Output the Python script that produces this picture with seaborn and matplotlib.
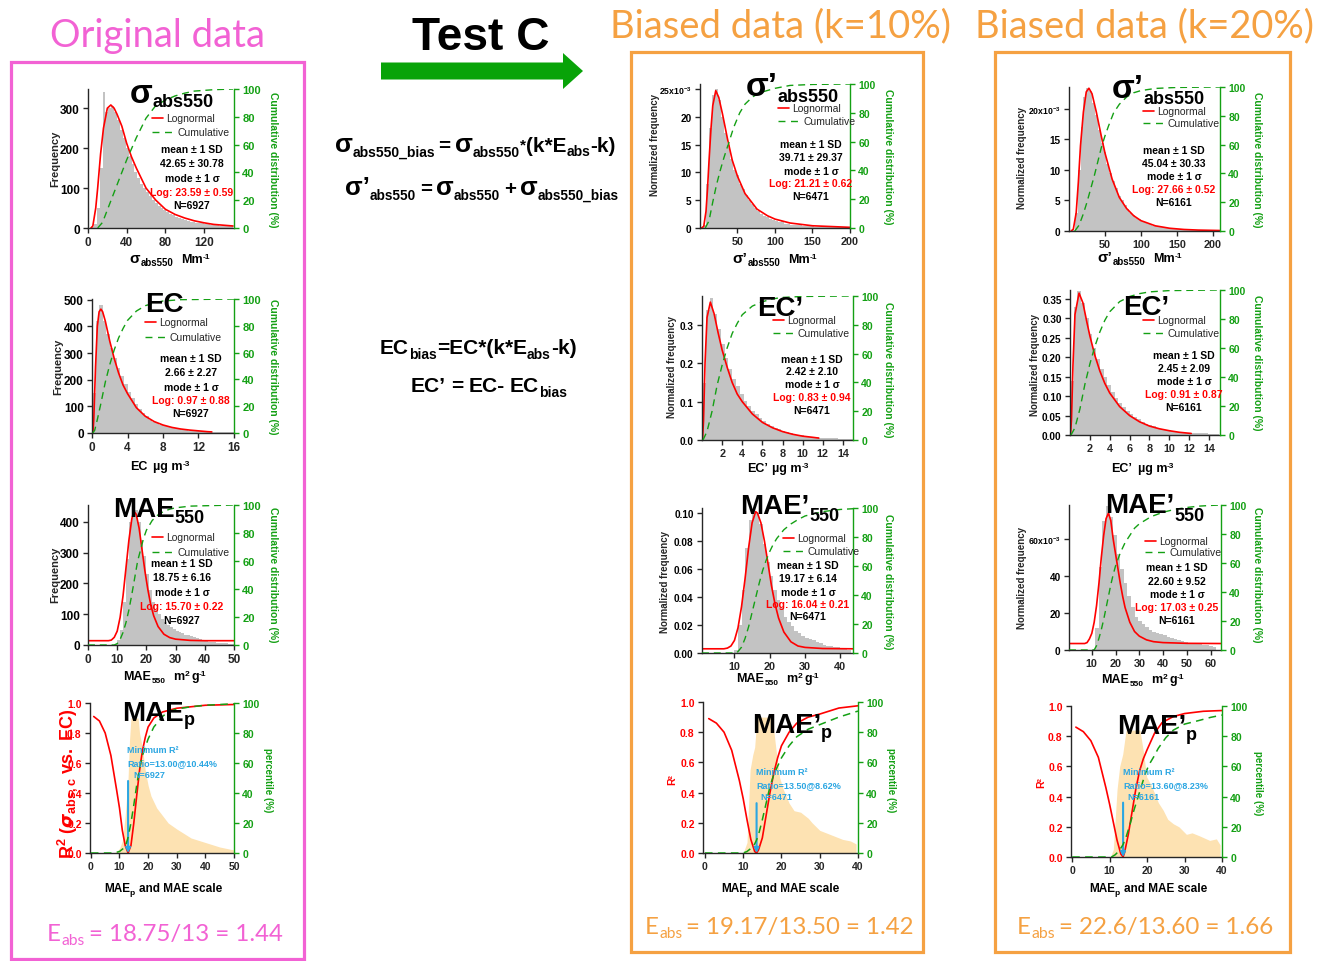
import numpy as np
import pandas as pd
import matplotlib
matplotlib.use("Agg")
import matplotlib.pyplot as plt
import seaborn as sns
from matplotlib.patches import Rectangle, FancyArrow

sns.set_style("ticks")
plt.rcParams['font.family'] = ['Liberation Sans', 'DejaVu Sans']
plt.rcParams['mathtext.fontset'] = 'custom'
plt.rcParams['mathtext.rm'] = 'Liberation Sans'
plt.rcParams['mathtext.bf'] = 'Liberation Sans:bold'
plt.rcParams['mathtext.it'] = 'Liberation Sans:italic'
plt.rcParams['mathtext.sf'] = 'Liberation Sans'
plt.rcParams['axes.unicode_minus'] = False

# ------------------------------------------------------------------ data
# --- Original data: sigma_abs550 (bin width 3, 0..150)
H11 = [0, 2, 10, 50, 150, 340, 290, 300, 305, 290, 270, 245, 225, 200, 180, 160, 140, 125, 110, 100,
       90, 80, 70, 62, 55, 50, 45, 40, 36, 32, 28, 25, 22, 20, 18, 16, 15, 13, 12, 14,
       10, 9, 8, 7, 7, 6, 5, 5, 4, 4]
R11x = [3, 5, 8, 10, 13, 16, 20, 23.6, 27, 30, 35, 40, 45, 50, 60, 70, 80, 90, 100, 110, 120, 130, 140, 150]
R11y = [0, 5, 50, 100, 185, 250, 300, 308, 300, 285, 255, 212, 178, 150, 100, 70, 47, 34, 25, 18, 13, 9, 7, 5]
G11x = [10, 15, 20, 30, 40, 50, 60, 70, 80, 90, 100, 110, 130, 150]
G11y = [0, 4, 13, 31, 49, 65, 79, 88, 92, 95, 97, 98.5, 99.5, 100]

# --- Original data: EC (bin width 0.4, 0..16)
H12 = [150, 420, 480, 420, 370, 320, 280, 245, 215, 185, 155, 130, 108, 90, 75, 62, 50, 42, 36, 31,
       27, 23, 20, 17, 15, 13, 11, 9, 8, 7, 6, 5, 5, 4, 4, 3, 3, 2, 2, 2]
R12x = [0.1, 0.2, 0.4, 0.6, 0.8, 1.0, 1.2, 1.5, 2, 2.5, 3, 3.5, 4, 5, 6, 7, 8, 9, 10, 11, 12, 13, 13.5]
R12y = [0, 50, 250, 400, 455, 465, 455, 420, 345, 280, 225, 180, 148, 95, 63, 43, 30, 21, 15, 11, 8, 5, 4]
G12x = [0.1, 0.3, 0.6, 1, 1.5, 2, 2.5, 3, 3.5, 4, 5, 6, 7, 8, 10, 16]
G12y = [0, 2, 10, 22, 38, 51, 62, 71, 78, 84, 91, 95, 97, 98.5, 99.5, 100]

# --- Original data: MAE550 (bin width 1, 0..50)
H13 = [0, 0, 0, 0, 0, 0, 0, 0, 0, 3, 15, 50, 140, 280, 400, 450, 440, 400, 340, 290,
       230, 180, 140, 115, 100, 85, 75, 66, 58, 52, 46, 42, 38, 34, 31, 28, 25, 22, 19, 16,
       13, 11, 10, 9, 8, 7, 6, 5, 4, 3]
R13x = [0, 7, 8, 9, 10, 11, 12, 13, 14, 15, 15.7, 16.5, 17.5, 18.5, 19.5, 20.5, 21.5, 22.5, 24, 26, 28, 30, 35, 40, 50]
R13y = [14, 14, 16, 25, 45, 90, 160, 250, 340, 410, 435, 425, 380, 310, 240, 180, 130, 95, 60, 35, 24, 19, 15, 14, 14]
G13x = [0, 9, 10, 11, 12, 13, 14, 15, 16, 17, 18, 19, 20, 22, 24, 26, 28, 30, 35, 50]
G13y = [0, 0, 1, 4, 9, 16, 25, 36, 48, 60, 68, 76, 82, 89, 93, 95.5, 97, 98, 99.2, 100]

# --- Original data: MAEp scan
F14x = [8, 9, 10, 11, 12, 13, 13.5, 14, 16.5, 17, 18, 19, 20, 21, 22, 23, 25, 27, 30, 35, 40, 45, 50]
F14y = [0, 0.01, 0.03, 0.08, 0.25, 0.5, 0.75, 0.9, 0.9, 0.8, 0.7, 0.55, 0.45, 0.38, 0.34, 0.3, 0.25, 0.2, 0.16, 0.1, 0.07, 0.04, 0.02]
R14x = [1, 3, 5, 7, 9, 10, 11, 12, 13, 14, 15, 16, 17, 18, 19, 20, 22, 25, 30, 40, 50]
R14y = [0.91, 0.88, 0.8, 0.65, 0.42, 0.3, 0.15, 0.05, 0.0, 0.05, 0.2, 0.38, 0.55, 0.68, 0.77, 0.84, 0.9, 0.94, 0.965, 0.985, 0.99]
G14x = [0, 8, 10, 12, 13, 14, 15, 16, 17, 18, 20, 22, 25, 27, 30, 35, 40, 50]
G14y = [0, 0, 1, 4, 10.44, 20, 32, 45, 56, 65, 76, 84, 91, 94, 96, 97.5, 98.5, 99.5]

# --- k=10%: sigma'_abs550 (bin width 4, 0..200), values x1e-3
H21 = [0, 0.5, 8, 18, 24, 25, 23, 20, 17, 15, 12.5, 10.5, 9.5, 8, 7, 6, 5, 4.3, 3.6, 3,
       2.6, 2.2, 1.9, 1.6, 1.4, 1.2, 1.0, 1.3, 0.8, 0.7, 0.6, 0.55, 0.5, 0.45, 0.4, 0.35, 0.3, 0.3, 0.25, 0.25,
       0.2, 0.2, 0.18, 0.15, 0.15, 0.12, 0.12, 0.1, 0.1, 0.1]
R21x = [2, 5, 8, 10, 12, 14.6, 17, 21, 25, 30, 36.7, 43, 50, 60, 76, 90, 100, 120, 150, 200]
R21y = [0, 0.3, 3, 7, 12, 17.8, 22, 24.7, 23.5, 20.5, 16, 12.2, 9.3, 6.2, 3.4, 2.2, 1.6, 0.9, 0.4, 0.12]
G21x = [7, 12, 17, 22, 27, 32, 37, 45, 53, 60, 70, 80, 100, 120, 150, 200]
G21y = [0, 5, 18, 30, 40, 49, 57, 70, 80, 86, 91, 94, 97, 99, 99.7, 100]

# --- k=10%: EC' (bin width 0.375, 0..15)
H22 = [0.15, 0.34, 0.37, 0.33, 0.29, 0.25, 0.215, 0.185, 0.16, 0.14, 0.12, 0.102, 0.088, 0.077, 0.067, 0.058, 0.05, 0.043, 0.037, 0.032,
       0.028, 0.024, 0.021, 0.018, 0.016, 0.014, 0.012, 0.01, 0.009, 0.008, 0.007, 0.006, 0.005, 0.005, 0.004, 0.004, 0.003, 0.003, 0.003, 0.002]
R22x = [0.05, 0.15, 0.3, 0.5, 0.83, 1.2, 1.6, 2, 2.5, 3, 3.5, 4, 5, 6, 7, 8, 9, 10, 11, 11.6]
R22y = [0, 0.05, 0.2, 0.32, 0.36, 0.33, 0.28, 0.235, 0.19, 0.15, 0.12, 0.1, 0.068, 0.046, 0.032, 0.022, 0.015, 0.01, 0.007, 0.005]
G22x = [0.1, 0.5, 1, 1.5, 2, 2.5, 3, 3.5, 4, 5, 6, 7, 8, 10, 15]
G22y = [0, 6, 20, 38, 52, 64, 74, 81, 87, 93, 96, 98, 99, 99.7, 100]

# --- k=10%: MAE'550 (bin width 1, 1..43)
H23 = [0, 0, 0, 0, 0, 0, 0, 0, 0, 0.002, 0.02, 0.045, 0.075, 0.095, 0.1, 0.1, 0.092, 0.078, 0.065, 0.055,
       0.045, 0.038, 0.032, 0.026, 0.022, 0.019, 0.016, 0.014, 0.012, 0.011, 0.01, 0.009, 0.008, 0.007, 0.006, 0.005, 0.005, 0.004, 0.004, 0.003,
       0.003, 0.002]
R23x = [0.8, 7, 8, 9, 10, 11, 12, 13, 14, 15, 16, 16.5, 17.5, 18.5, 19.5, 20.5, 21.5, 22.5, 24, 26, 28, 30, 35, 43.6]
R23y = [0.003, 0.003, 0.0035, 0.005, 0.009, 0.018, 0.033, 0.053, 0.075, 0.093, 0.101, 0.1, 0.093, 0.08, 0.064, 0.048, 0.035, 0.025, 0.015, 0.008, 0.005, 0.004, 0.0032, 0.003]
G23x = [0.8, 10.5, 11, 12, 13, 14, 15, 16, 17, 18, 19, 20, 21, 22, 24, 26, 28, 30, 35, 40, 43.6]
G23y = [0, 0, 1, 4, 10, 18, 28, 38, 48, 57, 64, 70, 75, 79, 85, 89, 92, 94.5, 97.5, 99, 99.5]

# --- k=10%: MAE'p scan
F24x = [10, 11, 11.8, 12.5, 13, 13.6, 17.6, 18.5, 19.5, 20.5, 22, 23.3, 25, 27, 28, 30, 32, 34, 36, 38, 39.5]
F24y = [0, 0.07, 0.55, 0.65, 0.7, 0.9, 0.9, 0.7, 0.5, 0.42, 0.33, 0.28, 0.27, 0.23, 0.2, 0.15, 0.13, 0.11, 0.09, 0.08, 0.06]
R24x = [1, 3, 5, 7, 9, 10, 11, 12, 13, 13.5, 14, 15, 16, 17, 18, 19, 20, 22, 24, 27, 30, 35, 40]
R24y = [0.89, 0.86, 0.8, 0.68, 0.48, 0.36, 0.22, 0.09, 0.01, 0, 0.02, 0.1, 0.25, 0.4, 0.53, 0.63, 0.71, 0.8, 0.86, 0.9, 0.92, 0.96, 0.975]
G24x = [0, 10, 11, 12, 13, 13.5, 14, 15, 16, 17, 18, 20, 22, 24, 27, 30, 35, 40]
G24y = [0, 0, 1, 3, 6, 8.62, 12, 22, 33, 44, 52, 63, 71, 77, 82, 85, 90, 94]

# --- k=20%: sigma'_abs550 (bin width 4, 0..208), values x1e-3
H31 = [0, 0.2, 3, 10, 17, 22, 23.5, 23, 21, 19, 16.5, 14.5, 13, 11, 9.5, 8.2, 7, 5.8, 5, 4.2,
       3.6, 3, 2.6, 2.2, 1.9, 1.6, 1.4, 1.2, 1.0, 0.9, 0.8, 0.7, 0.6, 0.5, 0.45, 0.4, 0.35, 0.3, 0.28, 0.25,
       0.22, 0.2, 0.15, 0.12, 0.1, 0.1, 0.08, 0.08, 0.06, 0.05, 0.05, 0.04]
R31x = [3, 6, 10, 13, 16, 20, 24, 27.7, 32, 38, 45, 50, 60, 70, 80, 90, 100, 120, 140, 160, 180, 210]
R31y = [0, 0.3, 3, 8, 14, 19.5, 22.8, 23.4, 22.5, 19.5, 15.5, 12.8, 8.5, 5.5, 3.7, 2.5, 1.7, 0.85, 0.45, 0.25, 0.15, 0.08]
G31x = [8, 14, 20, 25, 30, 35, 40, 45, 50, 55, 62, 70, 80, 90, 100, 120, 150, 210]
G31y = [0, 4, 12, 20, 29, 38, 48, 58, 66, 73, 82, 88, 93, 96, 97.5, 99, 99.7, 100]

# --- k=20%: EC' (bin width 0.375, 0..15)
H32 = [0.14, 0.33, 0.37, 0.34, 0.3, 0.26, 0.225, 0.195, 0.17, 0.148, 0.128, 0.11, 0.095, 0.082, 0.071, 0.061, 0.053, 0.046, 0.04, 0.034,
       0.029, 0.025, 0.022, 0.019, 0.016, 0.014, 0.012, 0.01, 0.009, 0.008, 0.007, 0.006, 0.005, 0.005, 0.004, 0.004, 0.004, 0.003, 0.003, 0.002]
R32x = [0.05, 0.15, 0.3, 0.5, 0.91, 1.3, 1.7, 2, 2.5, 3, 3.5, 4, 5, 6, 7, 8, 9, 10, 11, 12.2]
R32y = [0, 0.04, 0.18, 0.31, 0.365, 0.34, 0.29, 0.255, 0.205, 0.165, 0.133, 0.108, 0.073, 0.05, 0.034, 0.023, 0.016, 0.011, 0.007, 0.004]
G32x = [0.1, 0.5, 1, 1.5, 2, 2.5, 3, 3.5, 4, 5, 6, 7, 8, 10, 15]
G32y = [0, 5, 18, 35, 49, 61, 71, 79, 85, 92, 95.5, 97.5, 98.7, 99.6, 100]

# --- k=20%: MAE'550 (bin width 1.5, 1..64), values x1e-3
H33 = [0, 0, 0, 0, 0, 0, 0.5, 12, 45, 70, 78, 72, 62, 52, 44, 36, 29, 23, 18, 15.5,
       14, 12.5, 11, 10, 9, 8.5, 8, 7, 6.5, 6, 5.5, 5, 4.5, 4, 3.5, 3.5, 3, 2.5, 2.5, 2,
       1.5, 0]
R33x = [0.5, 7, 8, 9, 10, 11, 12, 13, 14, 15, 16, 17, 18, 19, 20, 21, 22, 23, 24, 26, 28, 30, 33, 36, 40, 50, 64.4]
R33y = [3.5, 3.5, 4, 6, 9, 15, 24, 36, 50, 62, 71, 74, 70, 60, 52, 44, 36, 29, 23, 15, 10, 7.5, 5.5, 4.5, 4, 3.6, 3.5]
G33x = [0.4, 11, 12, 13, 14, 15, 16, 17, 18, 19, 20, 22, 24, 26, 28, 30, 35, 40, 45, 50, 55, 60, 64.4]
G33y = [0, 0, 3, 8, 14, 21, 29, 37, 45, 52, 58, 67, 74, 79, 84, 87, 92, 95, 97, 98.3, 99.2, 99.7, 100]

# --- k=20%: MAE'p scan
F34x = [10.2, 11, 12, 12.7, 13.5, 14.4, 18.1, 19, 19.9, 21, 21.7, 23, 24.3, 25.5, 27, 28.5, 30.5, 32, 34, 36.7, 38.5, 39.5]
F34y = [0, 0.05, 0.45, 0.6, 0.68, 0.84, 0.84, 0.7, 0.53, 0.48, 0.44, 0.36, 0.31, 0.25, 0.22, 0.2, 0.15, 0.16, 0.14, 0.11, 0.12, 0.08]
R34x = [1, 3, 5, 7, 9, 10, 11, 12, 13, 13.6, 14, 15, 16, 17, 18, 19, 20, 22, 24, 27, 30, 35, 40]
R34y = [0.86, 0.83, 0.77, 0.66, 0.46, 0.35, 0.23, 0.11, 0.02, 0, 0.03, 0.15, 0.3, 0.45, 0.57, 0.65, 0.71, 0.82, 0.89, 0.93, 0.95, 0.965, 0.97]
G34x = [0, 10.5, 11.5, 12.5, 13.6, 14.5, 15.5, 16.5, 17.5, 18.5, 19.5, 20.5, 21.7, 23, 25, 27, 30, 34, 37, 40]
G34y = [0, 0, 1.5, 4, 8.23, 14, 22, 31, 39, 47, 55, 61, 66, 72, 79, 84, 88, 90.5, 92.5, 94]

STATS = {
    '11': ("42.65 ± 30.78", "Log: 23.59 ± 0.59", "N=6927"),
    '12': ("2.66 ± 2.27", "Log: 0.97 ± 0.88", "N=6927"),
    '13': ("18.75 ± 6.16", "Log: 15.70 ± 0.22", "N=6927"),
    '21': ("39.71 ± 29.37", "Log: 21.21 ± 0.62", "N=6471"),
    '22': ("2.42 ± 2.10", "Log: 0.83 ± 0.94", "N=6471"),
    '23': ("19.17 ± 6.14", "Log: 16.04 ± 0.21", "N=6471"),
    '31': ("45.04 ± 30.33", "Log: 27.66 ± 0.52", "N=6161"),
    '32': ("2.45 ± 2.09", "Log: 0.91 ± 0.87", "N=6161"),
    '33': ("22.60 ± 9.52", "Log: 17.03 ± 0.25", "N=6161"),
}
MIN_R2 = {'14': (13.00, "Ratio=13.00@10.44%", "N=6927", 0.48),
          '24': (13.50, "Ratio=13.50@8.62%", "N=6471", 0.33),
          '34': (13.60, "Ratio=13.60@8.23%", "N=6161", 0.36)}

# ------------------------------------------------------------------ style
GRAY = '#c3c3c3'
RED = '#ff0000'
GREEN = '#14a014'
PEACH = '#fde2b2'
BLUE = '#2ba6e2'
PINK = '#f262d4'
ORANGE = '#f5a142'

W, H = 1317, 962
fig = plt.figure(figsize=(W / 100, H / 100), dpi=100)
renderer = fig.canvas.get_renderer()


def add_ax(l, t, r, b):
    return fig.add_axes([l / W, 1 - b / H, (r - l) / W, (b - t) / H])


def style_axes(ax, ax2, xlim, ylim, xt, xl, yt, yl, ylab_color='black', sizes=(8.5, 8.5, 8)):
    ysz, xsz, rsz = sizes
    ax.set_xlim(*xlim)
    ax.set_ylim(*ylim)
    ax2.set_ylim(0, 100)
    for s in ['top', 'right']:
        ax.spines[s].set_visible(False)
    for s in ['top', 'left', 'bottom']:
        ax2.spines[s].set_visible(False)
    ax2.spines['right'].set_color(GREEN)
    for sp in list(ax.spines.values()) + [ax2.spines['right']]:
        sp.set_linewidth(1.0)
    ax.tick_params(direction='out', length=3.5, width=1, pad=2.5)
    ax2.tick_params(direction='out', length=3.5, width=1, pad=2.5, colors=GREEN)
    ax.set_xticks(xt, labels=xl, fontsize=xsz, fontweight='bold')
    ax.set_yticks(yt, labels=yl, fontsize=ysz, fontweight='bold', color=ylab_color)
    for lab in ax.get_yticklabels():
        if 'x10' in lab.get_text():
            lab.set_fontsize(ysz - 1)
    ax2.set_yticks([0, 20, 40, 60, 80, 100], labels=['0', '20', '40', '60', '80', '100'],
                   fontsize=rsz, fontweight='bold', color=GREEN)
    for a in (ax, ax2):
        a.set_xlabel('')
        a.set_ylabel('')
    ax.set_facecolor('none')


def hist_panel(box, xlim, ylim, lo, hi, heights, rx, ry, gx, gy, xt, xl, yt, yl, sizes):
    ax = add_ax(*box)
    edges = np.linspace(lo, hi, len(heights) + 1)
    df = pd.DataFrame({'x': (edges[:-1] + edges[1:]) / 2, 'w': heights})
    sns.histplot(data=df, x='x', weights='w', bins=list(edges), ax=ax, color=GRAY, alpha=1,
                 element='step', fill=True, linewidth=0)
    sns.lineplot(x=rx, y=ry, ax=ax, color=RED, linewidth=1.2, estimator=None, sort=False)
    ax2 = ax.twinx()
    sns.lineplot(x=gx, y=gy, ax=ax2, color=GREEN, linewidth=1.0, linestyle=(0, (5, 3.5)),
                 estimator=None, sort=False)
    style_axes(ax, ax2, xlim, ylim, xt, xl, yt, yl, sizes=sizes)
    return ax, ax2


def scan_panel(box, xlim, fx, fy, rx, ry, gx, gy, xt, xl, key, sizes):
    ax = add_ax(*box)
    ax.fill_between(fx, fy, color=PEACH, linewidth=0)
    sns.lineplot(x=rx, y=ry, ax=ax, color=RED, linewidth=1.2, estimator=None, sort=False)
    ax2 = ax.twinx()
    sns.lineplot(x=gx, y=gy, ax=ax2, color=GREEN, linewidth=1.1, linestyle=(0, (5, 3.5)),
                 estimator=None, sort=False)
    xm, _, _, ytop = MIN_R2[key]
    ax.annotate('', xy=(xm, 0.0), xytext=(xm, ytop),
                arrowprops=dict(arrowstyle='-|>', color=BLUE, lw=1.5, mutation_scale=7,
                                shrinkA=0, shrinkB=0))
    style_axes(ax, ax2, xlim, (0, 1), xt, xl, [0, 0.2, 0.4, 0.6, 0.8, 1.0],
               ['0.0', '0.2', '0.4', '0.6', '0.8', '1.0'], ylab_color=RED, sizes=sizes)
    return ax, ax2


# ---------------------------------------------------------------- panels
S1 = (8.5, 8.5, 8)
S2 = (7.2, 7.8, 7.5)
sup3 = r'x10$^{\mathbf{-3}}$'
hist_panel((88, 90, 234, 229), (0, 151), (0, 348), 0, 150, H11, R11x, R11y, G11x, G11y,
           [0, 40, 80, 120], ['0', '40', '80', '120'], [0, 100, 200, 300], ['0', '100', '200', '300'], S1)
hist_panel((92, 300, 234, 434), (0, 16), (0, 503), 0, 16, H12, R12x, R12y, G12x, G12y,
           [0, 4, 8, 12, 16], ['0', '4', '8', '12', '16'], [0, 100, 200, 300, 400, 500],
           ['0', '100', '200', '300', '400', '500'], S1)
hist_panel((88, 506, 234, 646), (0, 50), (0, 455), 0, 50, H13, R13x, R13y, G13x, G13y,
           [0, 10, 20, 30, 40, 50], ['0', '10', '20', '30', '40', '50'], [0, 100, 200, 300, 400],
           ['0', '100', '200', '300', '400'], S1)
scan_panel((90, 704, 234, 854), (-0.3, 50), F14x, F14y, R14x, R14y, G14x, G14y,
           [0, 10, 20, 30, 40, 50], ['0', '10', '20', '30', '40', '50'], '14', (7.5, 7.5, 7.5))

hist_panel((700, 85, 850, 229), (0, 200), (0, 25.9), 0, 200, H21, R21x, R21y, G21x, G21y,
           [50, 100, 150, 200], ['50', '100', '150', '200'], [0, 5, 10, 15, 20, 25],
           ['0', '5', '10', '15', '20', '25' + sup3], S2)
hist_panel((702, 297, 853, 441), (0, 15), (0, 0.376), 0, 15, H22, R22x, R22y, G22x, G22y,
           [2, 4, 6, 8, 10, 12, 14], ['2', '4', '6', '8', '10', '12', '14'], [0, 0.1, 0.2, 0.3],
           ['0.0', '0.1', '0.2', '0.3'], S2)
hist_panel((702, 509, 853, 654), (0.8, 43.6), (0, 0.1036), 1, 43, H23, R23x, R23y, G23x, G23y,
           [10, 20, 30, 40], ['10', '20', '30', '40'], [0, 0.02, 0.04, 0.06, 0.08, 0.10],
           ['0.00', '0.02', '0.04', '0.06', '0.08', '0.10'], S2)
scan_panel((703, 703, 858, 854), (-0.5, 40), F24x, F24y, R24x, R24y, G24x, G24y,
           [0, 10, 20, 30, 40], ['0', '10', '20', '30', '40'], '24', (7.5, 7.5, 7.5))

hist_panel((1069, 88, 1220, 232), (0, 210), (0, 23.6), 0, 208, H31, R31x, R31y, G31x, G31y,
           [50, 100, 150, 200], ['50', '100', '150', '200'], [0, 5, 10, 15, 20],
           ['0', '5', '10', '15', '20' + sup3], S2)
hist_panel((1070, 291, 1220, 436), (0, 15.1), (0, 0.373), 0, 15, H32, R32x, R32y, G32x, G32y,
           [2, 4, 6, 8, 10, 12, 14], ['2', '4', '6', '8', '10', '12', '14'],
           [0, 0.05, 0.10, 0.15, 0.20, 0.25, 0.30, 0.35],
           ['0.00', '0.05', '0.10', '0.15', '0.20', '0.25', '0.30', '0.35'], S2)
hist_panel((1069, 506, 1221, 651), (0.4, 64.4), (0, 78.4), 1, 64, H33, R33x, R33y, G33x, G33y,
           [10, 20, 30, 40, 50, 60], ['10', '20', '30', '40', '50', '60'], [0, 20, 40, 60],
           ['0', '20', '40', '60' + sup3], S2)
scan_panel((1071, 707, 1222, 858), (-0.3, 40), F34x, F34y, R34x, R34y, G34x, G34y,
           [0, 10, 20, 30, 40], ['0', '10', '20', '30', '40'], '34', (7.5, 7.5, 7.5))

# ---------------------------------------------------------------- overlay
ov = fig.add_axes([0, 0, 1, 1])
ov.set_xlim(0, W)
ov.set_ylim(H, 0)
ov.axis('off')
ov.patch.set_alpha(0)
ov.set_zorder(10)


def chain(x, y, parts, color='black', family='Liberation Sans', weight='bold', fit=None, ha='left'):
    def place(scale):
        arts, cx = [], x
        for p in parts:
            s, sz, dy = p[0], p[1], p[2]
            gap = p[3] if len(p) > 3 else 0
            t = ov.text(cx, y + dy * scale, s, fontsize=sz * scale, color=color, fontweight=weight,
                        family=family, ha='left', va='baseline')
            cx += t.get_window_extent(renderer).width + gap * scale
            arts.append(t)
        return arts, cx - x
    arts, w = place(1.0)
    if fit:
        for a in arts:
            a.remove()
        arts, w = place(fit / w)
    if ha == 'center':
        for a in arts:
            a.set_x(a.get_position()[0] - w / 2)
    return arts


# frames
ov.add_patch(Rectangle((11, 63), 293, 897, fill=False, ec=PINK, lw=2.3))
ov.add_patch(Rectangle((631, 53), 292, 900, fill=False, ec=ORANGE, lw=2.3))
ov.add_patch(Rectangle((995, 53), 295, 900, fill=False, ec=ORANGE, lw=2.3))

# arrow
ov.add_patch(FancyArrow(381, 72, 182, 0, width=17, head_width=36, head_length=20,
                        length_includes_head=False, color='#08a308', lw=0))

# headers
chain(50, 47, [("Original data", 26, 0)], color=PINK, family='Lato', weight='normal', fit=215)
chain(610, 37, [("Biased data (k=10%)", 26, 0)], color=ORANGE, family='Lato', weight='normal', fit=340)
chain(975, 37, [("Biased data (k=20%)", 26, 0)], color=ORANGE, family='Lato', weight='normal', fit=338)
chain(412, 50, [("Test C", 32, 0)], fit=138)

# equations
chain(335, 152, [("σ", 19, 0), ("abs550_bias", 10, 5, 3), ("=", 15, 0, 4), ("σ", 19, 0),
                 ("abs550", 10, 5), ("*", 11, -3), ("(k*E", 15, 0), ("abs", 10, 4), ("-k)", 15, 0)], fit=280)
chain(345, 195, [("σ’", 19, 0), ("abs550", 10, 5, 4), ("=", 15, 0, 4), ("σ", 19, 0),
                 ("abs550", 10, 5, 4), ("+", 15, 0, 4), ("σ", 19, 0), ("abs550_bias", 10, 5)], fit=273)
chain(380, 354, [("EC", 15, 0), ("bias", 10, 5), ("=EC*(k*E", 15, 0), ("abs", 10, 5), ("-k)", 15, 0)], fit=197)
chain(411, 392, [("EC’", 15, 0, 5), ("=", 15, 0, 5), ("EC-", 15, 0, 5), ("EC", 15, 0), ("bias", 10, 5)], fit=156)

# bottom texts
chain(47, 941, [("E", 20, 0), ("abs", 13, 5, 5), ("= 18.75/13 = 1.44", 20, 0)], color=PINK,
      family='Lato', weight='normal', fit=235)
chain(645, 934, [("E", 20, 0), ("abs", 13, 5, 5), ("= 19.17/13.50 = 1.42", 20, 0)], color=ORANGE,
      family='Lato', weight='normal', fit=268)
chain(1017, 934, [("E", 20, 0), ("abs", 13, 5, 5), ("= 22.6/13.60 = 1.66", 20, 0)], color=ORANGE,
      family='Lato', weight='normal', fit=256)

# panel titles
chain(130, 103, [("σ", 24, 0), ("abs550", 13, 4)])
chain(746, 96, [("σ’", 24, 0), ("abs550", 13, 6)])
chain(1112, 98, [("σ’", 24, 0), ("abs550", 13, 6)])
chain(145, 312, [("EC", 20, 0)])
chain(757, 316, [("EC’", 20, 0)])
chain(1123, 315, [("EC’", 20, 0)])
chain(113, 517, [("MAE", 20, 0), ("550", 13, 6)])
chain(740, 514, [("MAE’", 20, 0), ("550", 13, 7)])
chain(1105, 513, [("MAE’", 20, 0), ("550", 13, 8)])
chain(122, 721, [("MAE", 20, 0), ("p", 13, 4)])
chain(752, 733, [("MAE’", 20, 0), ("p", 13, 5)])
chain(1117, 734, [("MAE’", 20, 0), ("p", 13, 6)])


def legend_block(x, y1, y2):
    ov.plot([x, x + 11], [y1, y1], color=RED, lw=1.2)
    ov.text(x + 14, y1, "Lognormal", fontsize=7.5, va='center', ha='left')
    ov.plot([x, x + 20], [y2, y2], color=GREEN, lw=1.0, ls=(0, (5, 4)))
    ov.text(x + 25, y2, "Cumulative", fontsize=7.5, va='center', ha='left')


def stats_block(key, cx, ys):
    ms, lg, n = STATS[key]
    lines = ["mean ± 1 SD", ms, "mode ± 1 σ", lg, n]
    for i, (s, yy) in enumerate(zip(lines, ys)):
        ov.text(cx, yy, s, fontsize=7.5, fontweight='bold', ha='center', va='center',
                color=RED if i == 3 else 'black')


legend_block(152, 119, 133); stats_block('11', 192, [150, 164, 179, 193, 206])
legend_block(145, 323, 338); stats_block('12', 191, [359, 373, 388, 401, 414])
legend_block(152, 538, 553); stats_block('13', 182, [564, 578, 593, 607, 621])
legend_block(778, 109, 122); stats_block('21', 811, [145, 158, 172, 184, 197])
legend_block(773, 321, 334); stats_block('22', 812, [360, 372, 385, 398, 411])
legend_block(783, 539, 552); stats_block('23', 808, [566, 579, 593, 605, 617])
legend_block(1143, 112, 124); stats_block('31', 1174, [151, 164, 177, 190, 203])
legend_block(1143, 321, 334); stats_block('32', 1184, [356, 369, 382, 395, 408])
legend_block(1145, 542, 553); stats_block('33', 1177, [568, 582, 595, 608, 621])

# minimum R2 annotations
for key, (x0, y0, xn) in {'14': (127, 751, 133), '24': (756, 773, 760), '34': (1123, 773, 1127)}.items():
    _, rtxt, ntxt, _ = MIN_R2[key]
    ov.text(x0, y0, "Minimum R²", fontsize=6.5, fontweight='bold', color=BLUE, va='center')
    ov.text(x0, y0 + 12.5, rtxt, fontsize=6.5, fontweight='bold', color=BLUE, va='center')
    ov.text(xn, y0 + 25, ntxt, fontsize=6.5, fontweight='bold', color=BLUE, va='center')

# y labels
for x, y in [(55, 159), (58, 367), (55, 575)]:
    ov.text(x, y, "Frequency", rotation=90, fontsize=8, fontweight='bold', ha='center', va='center')
for x, y in [(655, 145), (672, 367), (665, 582), (1022, 158), (1035, 365), (1022, 578)]:
    ov.text(x, y, "Normalized frequency", rotation=90, fontsize=7, fontweight='bold', ha='center', va='center')
for x, y in [(273, 160), (273, 367), (273, 575), (888, 157), (888, 370), (888, 582),
             (1257, 160), (1257, 363), (1257, 575)]:
    ov.text(x, y, "Cumulative distribution (%)", rotation=270, fontsize=7.5, fontweight='bold',
            color=GREEN, ha='center', va='center')
for x, y in [(268, 780), (891, 780), (1258, 783)]:
    ov.text(x, y, "percentile (%)", rotation=270, fontsize=7, fontweight='bold', color=GREEN,
            ha='center', va='center')
ov.text(67, 784, r"$\mathbf{R^2\ (}\boldsymbol{\sigma}_{\mathbf{abs,c}}\mathbf{\ vs.\ EC)}$", rotation=90,
        fontsize=13, color=RED, ha='center', va='center')
for x, y in [(672, 780), (1041, 783)]:
    ov.text(x, y, "R²", rotation=90, fontsize=7.5, fontweight='bold', color=RED, ha='center', va='center')

# x labels
for cx, by, pre in [(170, 263, "σ"), (775, 263, "σ’"), (1140, 262, "σ’")]:
    chain(cx, by, [(pre, 11, 0), ("abs550", 7, 3, 8), ("Mm", 9, 0), ("-1", 6, -4)], ha='center')
for cx, by, pre in [(160, 470, "EC"), (778, 472, "EC’"), (1143, 472, "EC’")]:
    chain(cx, by, [(pre, 9, 0, 5), ("µg m", 9, 0), ("-3", 6, -4)], ha='center')
for cx, by in [(165, 680), (778, 682), (1143, 683)]:
    chain(cx, by, [("MAE", 9, 0), ("550", 6, 3, 8), ("m", 9, 0), ("2", 6, -4, 2), ("g", 9, 0), ("-1", 6, -4)],
          ha='center')
for cx, by in [(163, 892), (780, 892), (1148, 892)]:
    chain(cx, by, [("MAE", 8.5, 0), ("p", 6, 3, 4), ("and MAE scale", 8.5, 0)], ha='center')

fig.savefig("out.png", dpi=100)
